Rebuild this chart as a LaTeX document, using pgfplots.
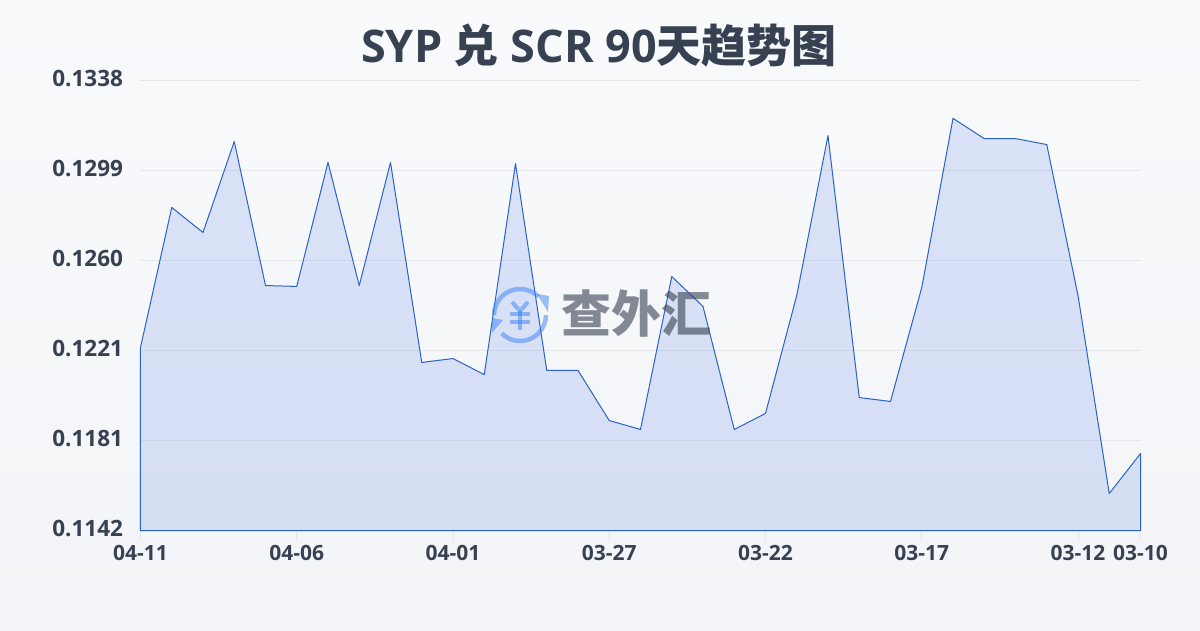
\documentclass[border=0pt]{standalone}
\usepackage{fontspec}
\setmainfont{Open Sans}
\newfontfamily\cjk{Noto Sans CJK SC}
\usepackage{pgfplots}
\pgfplotsset{compat=1.18}
\definecolor{txt}{HTML}{374151}
\definecolor{lin}{HTML}{2B62C8}
\definecolor{fil}{HTML}{2F62E0}
\definecolor{wm}{HTML}{3B82F6}
\definecolor{bgt}{HTML}{F8FAFC}
\definecolor{bgb}{HTML}{F2F4F7}
\definecolor{grd}{HTML}{E5E7EB}
\begin{document}
\begin{tikzpicture}[x=1pt,y=1pt]
\path[use as bounding box] (0,0) rectangle (1200,630);
\shade[top color=bgt,bottom color=bgb] (0,0) rectangle (1200,630);
\node[anchor=center,text=txt,font=\fontsize{45}{52}\selectfont\bfseries] at (599,584.5)
  {SYP {\cjk 兑} SCR 90{\cjk 天趋势图}};
\begin{axis}[
  at={(140.5pt,99.5pt)},anchor=south west,
  scale only axis,width=1000pt,height=450pt,
  xmin=0,xmax=32,ymin=0.1142,ymax=0.1338,
  axis line style={draw=none},
  xtick={0,5,10,15,20,25,30,32},
  xticklabels={04-11,04-06,04-01,03-27,03-22,03-17,03-12,03-10},
  ytick={0.1142,0.11812,0.12204,0.12596,0.12988,0.1338},
  yticklabels={0.1142,0.1181,0.1221,0.1260,0.1299,0.1338},
  scaled y ticks=false,
  ymajorgrids,
  grid style={grd,line width=1pt},
  xtick pos=lower,ytick pos=left,
  tick align=outside,
  major tick length=10pt,
  ytick style={draw=none},
  xtick style={draw=grd,line width=1pt},
  yticklabel style={font=\fontsize{22.5}{26}\selectfont\bfseries,text=txt,xshift=-4pt,yshift=2pt},
  xticklabel style={font=\fontsize{21}{24}\selectfont\bfseries,text=txt,yshift=-1pt},
  clip=false,
]
\addplot[draw=lin,line width=1pt,fill=fil,fill opacity=0.15,line join=round] coordinates {
(0,0.1142)
(0,0.12217)(1,0.12827)(2,0.12718)(3,0.13114)(4,0.12487)(5,0.12483)(6,0.13023)(7,0.12487)
(8,0.13023)(9,0.12152)(10,0.12169)(11,0.12099)(12,0.13018)(13,0.12117)(14,0.12117)(15,0.11899)
(16,0.11860)(17,0.12526)(18,0.12396)(19,0.11860)(20,0.11930)(21,0.12444)(22,0.13140)(23,0.11999)
(24,0.11982)(25,0.12478)(26,0.13215)(27,0.13127)(28,0.13127)(29,0.13101)(30,0.12444)(31,0.11581)
(32,0.11755)(32,0.1142)
} -- cycle;
\end{axis}
% watermark
\begin{scope}[shift={(520,315)},opacity=0.5]
  \draw[wm,line width=4.5pt] (180:26) arc (180:45:26);
  \fill[wm] (17,21) -- (29,19) -- (28,3) -- cycle;
  \draw[wm,line width=4.5pt] (0:26) arc (0:-135:26);
  \fill[wm] (-28,-3) -- (-17,-5) -- (-28,-18) -- cycle;
  \draw[wm,line width=4pt] (-8,13) -- (0,4) -- (8,13);
  \draw[wm,line width=4pt] (0,4) -- (0,-15);
  \draw[wm,line width=3.5pt] (-10,1) -- (10,1);
  \draw[wm,line width=3.5pt] (-10,-7) -- (10,-7);
\end{scope}
\node[anchor=center,text=txt,opacity=0.6,font=\cjk\fontsize{50}{56}\selectfont\bfseries] at (636,316) {查外汇};
\end{tikzpicture}
\end{document}
